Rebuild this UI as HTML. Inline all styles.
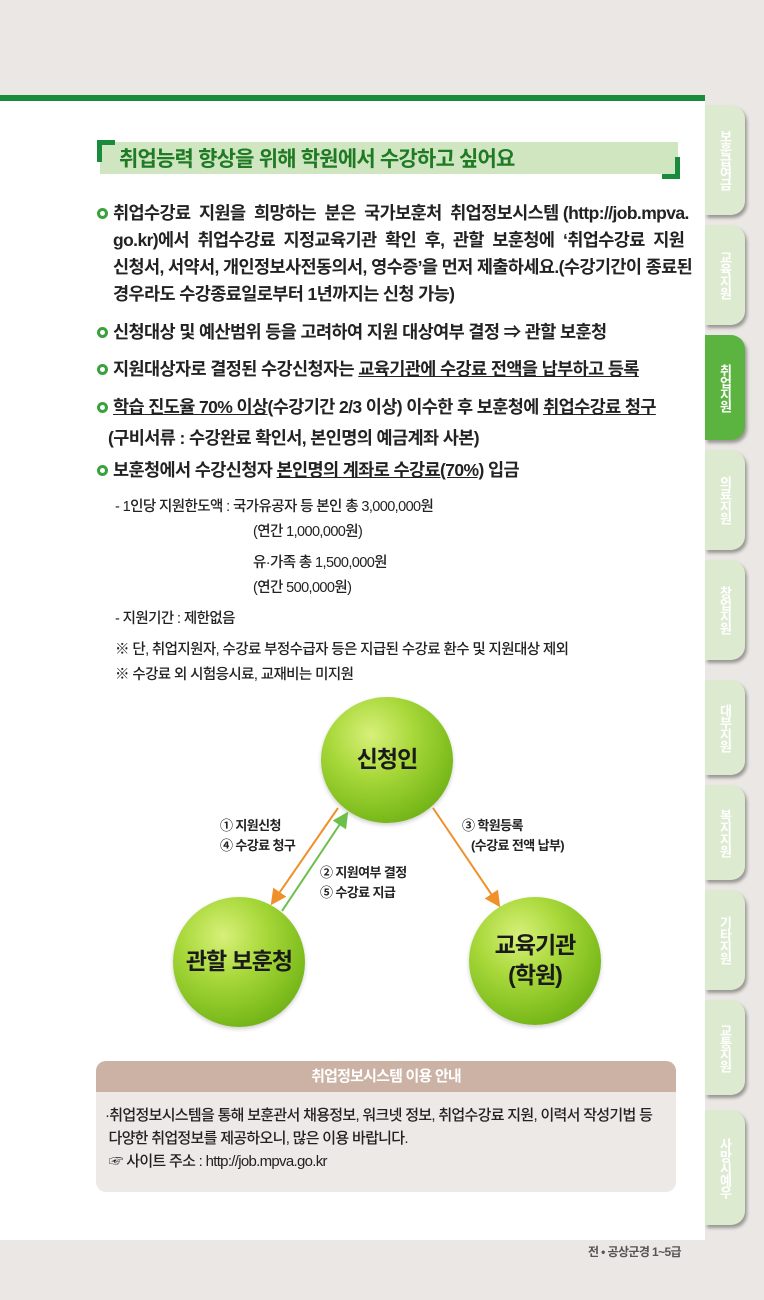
<!DOCTYPE html>
<html><head><meta charset="utf-8"><style>
*{margin:0;padding:0;box-sizing:border-box}
body{width:764px;height:1300px;background:#ebe7e4;position:relative;overflow:hidden;font-family:"Liberation Sans","Noto Sans CJK KR",sans-serif;color:#222}
.a{position:absolute;white-space:nowrap}
.tab{position:absolute;left:705px;width:40px;background:#dcebd0;border-radius:0 14px 14px 0;box-shadow:2px 3px 3px rgba(0,0,0,.35);color:#fff;font-size:13px;font-weight:bold;writing-mode:vertical-rl;text-orientation:upright;display:flex;align-items:center;justify-content:center;letter-spacing:-1px}
.b{font-size:17.5px;letter-spacing:-0.6px;font-weight:bold;color:#222}
.dot{display:inline-block;width:11px;height:11px;border:3px solid #3aa13e;border-radius:50%;margin-right:5px;vertical-align:0px}
.s{font-size:14.5px;letter-spacing:-0.6px;color:#222;font-weight:500}
u{text-decoration:underline}
.ball{position:absolute;border-radius:50%;background:radial-gradient(circle at 38% 30%,#d8f07a 0%,#a8d83a 35%,#7cbb1c 70%,#5e9c10 100%);box-shadow:0 2px 4px rgba(0,0,0,.2);display:flex;align-items:center;justify-content:center;text-align:center;font-weight:bold;font-size:23px;letter-spacing:-1px;color:#1a1a1a;line-height:1.3}
</style></head><body>
<div class="a" style="left:0;top:95px;width:705px;height:6px;background:#1a8a3c"></div>
<div class="a" style="left:0;top:101px;width:705px;height:1139px;background:#fff"></div>

<div class="tab" style="top:105px;height:110px">보훈급여금</div>
<div class="tab" style="top:225px;height:100px">교육지원</div>
<div class="tab" style="top:335px;height:105px;background:#5cb440">취업지원</div>
<div class="tab" style="top:450px;height:100px">의료지원</div>
<div class="tab" style="top:560px;height:100px">창업지원</div>
<div class="tab" style="top:680px;height:95px">대부지원</div>
<div class="tab" style="top:785px;height:95px">복지지원</div>
<div class="tab" style="top:890px;height:100px">기타지원</div>
<div class="tab" style="top:1000px;height:95px">교통지원</div>
<div class="tab" style="top:1110px;height:115px">사망시예우</div>

<!-- title bar -->
<div class="a" style="left:100px;top:142px;width:578px;height:32px;background:#cfe6c0"></div>
<div class="a" style="left:97px;top:140px;width:5px;height:22px;background:#1a8a3c"></div>
<div class="a" style="left:97px;top:140px;width:18px;height:5px;background:#1a8a3c"></div>
<div class="a" style="left:675px;top:157px;width:5px;height:22px;background:#1a8a3c"></div>
<div class="a" style="left:662px;top:174px;width:18px;height:5px;background:#1a8a3c"></div>
<div class="a" style="left:119px;top:143px;font-size:21px;font-weight:bold;color:#1f7a25;letter-spacing:-0.8px">취업능력 향상을 위해 학원에서 수강하고 싶어요</div>

<div class="a b" style="left:97px;top:200px"><span class="dot"></span>취업수강료 &nbsp;지원을 &nbsp;희망하는 &nbsp;분은 &nbsp;국가보훈처 &nbsp;취업정보시스템 (http://job.mpva.</div>
<div class="a b" style="left:113px;top:227px">go.kr)에서 &nbsp;취업수강료 &nbsp;지정교육기관 &nbsp;확인 &nbsp;후, &nbsp;관할 &nbsp;보훈청에 &nbsp;‘취업수강료 &nbsp;지원</div>
<div class="a b" style="left:113px;top:254px">신청서, 서약서, 개인정보사전동의서, 영수증’을 먼저 제출하세요.(수강기간이 종료된</div>
<div class="a b" style="left:113px;top:281px">경우라도 수강종료일로부터 1년까지는 신청 가능)</div>
<div class="a b" style="left:97px;top:319px"><span class="dot"></span>신청대상 및 예산범위 등을 고려하여 지원 대상여부 결정 ⇒ 관할 보훈청</div>
<div class="a b" style="left:97px;top:356px"><span class="dot"></span>지원대상자로 결정된 수강신청자는 <u>교육기관에 수강료 전액을 납부하고 등록</u></div>
<div class="a b" style="left:97px;top:394px"><span class="dot"></span><u>학습 진도율 70% 이상</u>(수강기간 2/3 이상) 이수한 후 보훈청에 <u>취업수강료 청구</u></div>
<div class="a b" style="left:108px;top:425px">(구비서류 : 수강완료 확인서, 본인명의 예금계좌 사본)</div>
<div class="a b" style="left:97px;top:457px"><span class="dot"></span>보훈청에서 수강신청자 <u>본인명의 계좌로 수강료(70%)</u> 입금</div>

<div class="a s" style="left:115px;top:495px">- 1인당 지원한도액 : 국가유공자 등 본인 총 3,000,000원</div>
<div class="a s" style="left:253px;top:520px">(연간 1,000,000원)</div>
<div class="a s" style="left:253px;top:551px">유·가족 총 1,500,000원</div>
<div class="a s" style="left:253px;top:576px">(연간 500,000원)</div>
<div class="a s" style="left:115px;top:607px">- 지원기간 : 제한없음</div>
<div class="a s" style="left:115px;top:638px">※ 단, 취업지원자, 수강료 부정수급자 등은 지급된 수강료 환수 및 지원대상 제외</div>
<div class="a s" style="left:115px;top:663px">※ 수강료 외 시험응시료, 교재비는 미지원</div>

<!-- diagram -->
<div class="ball" style="left:321px;top:697px;width:132px;height:126px">신청인</div>
<div class="ball" style="left:173px;top:897px;width:132px;height:130px">관할 보훈청</div>
<div class="ball" style="left:469px;top:897px;width:132px;height:128px">교육기관<br>(학원)</div>
<svg class="a" style="left:0;top:0" width="705" height="1240">
<defs>
<marker id="o" markerWidth="8" markerHeight="8" refX="6" refY="4" orient="auto"><path d="M0,0 L8,4 L0,8 Z" fill="#f0902a"/></marker>
<marker id="g" markerWidth="8" markerHeight="8" refX="6" refY="4" orient="auto"><path d="M0,0 L8,4 L0,8 Z" fill="#6cbf4a"/></marker>
</defs>
<line x1="338" y1="808" x2="273" y2="902" stroke="#f0902a" stroke-width="2" marker-end="url(#o)"/>
<line x1="282" y1="911" x2="346" y2="815" stroke="#6cbf4a" stroke-width="2" marker-end="url(#g)"/>
<line x1="433" y1="808" x2="498" y2="904" stroke="#f0902a" stroke-width="2" marker-end="url(#o)"/>
</svg>
<div class="a s" style="left:220px;top:816px;font-size:13px;line-height:20px;font-weight:bold">① 지원신청<br>④ 수강료 청구</div>
<div class="a s" style="left:320px;top:863px;font-size:13px;line-height:20px;font-weight:bold">② 지원여부 결정<br>⑤ 수강료 지급</div>
<div class="a s" style="left:462px;top:816px;font-size:13px;line-height:20px;font-weight:bold">③ 학원등록<br>&nbsp;&nbsp;&nbsp;(수강료 전액 납부)</div>

<!-- info box -->
<div class="a" style="left:96px;top:1061px;width:580px;height:131px;background:#ede9e6;border-radius:10px;overflow:hidden">
<div style="height:31px;background:#cbb2a4;color:#fff;font-weight:bold;font-size:15px;text-align:center;line-height:31px;letter-spacing:-0.8px">취업정보시스템 이용 안내</div>
</div>
<div class="a s" style="left:105px;top:1104px;line-height:23px;font-size:15px;letter-spacing:-0.7px">·취업정보시스템을 통해 보훈관서 채용정보, 워크넷 정보, 취업수강료 지원, 이력서 작성기법 등<br>&nbsp;다양한 취업정보를 제공하오니, 많은 이용 바랍니다.<br>&nbsp;☞ 사이트 주소 : http://job.mpva.go.kr</div>

<div class="a" style="left:588px;top:1243px;font-size:12px;font-weight:bold;color:#555;letter-spacing:-0.6px">전 • 공상군경 1~5급</div>
</body></html>
